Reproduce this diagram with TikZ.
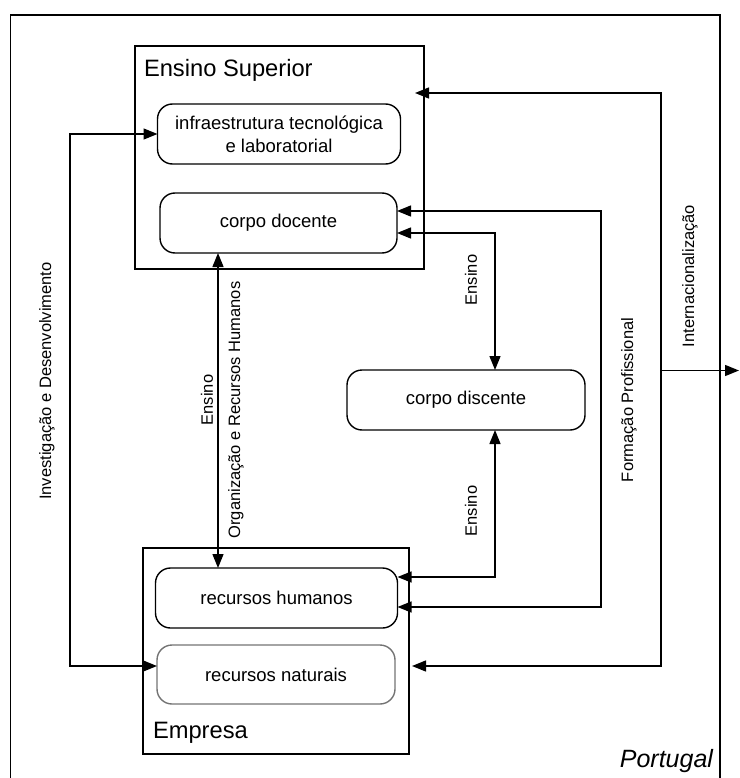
\documentclass[tikz,border=0pt]{standalone}
\usepackage{fontspec}
\setmainfont{Liberation Sans}
\usetikzlibrary{arrows.meta}

\begin{document}
\begin{tikzpicture}[x=1pt, y=-1pt, line width=1.4pt,
    every node/.style={inner sep=0, outer sep=0},
    area/.style={draw, anchor=north west},
    part/.style={draw, rounded corners=15pt, align=center, font=\fontsize{18.5}{23}\selectfont},
    heading/.style={font=\fontsize{23.7}{28}\selectfont, anchor=base west},
    flow/.style={font=\fontsize{16.5}{20}\selectfont, rotate=90},
    link/.style={{Triangle[length=14pt,width=11pt]}-{Triangle[length=14pt,width=11pt]}},
    leave/.style={-{Triangle[length=14pt,width=11pt]}}]
  \useasboundingbox (0,0) rectangle (739,778);

  % Portugal frame
  \draw (10.5,790) -- (10.5,15) -- (720,15) -- (720,790);
  \node[heading, anchor=base east, font=\itshape\fontsize{25}{28}\selectfont] (pt) at (713,767) {Portugal};

  % Ensino Superior
  \node[area, minimum width=289pt, minimum height=223pt] (es) at (135,46) {};
  \node[heading] (estitle) at (144,77) {Ensino Superior};
  \node[part, minimum width=243pt, minimum height=60pt] (infra) at (279,134) {infraestrutura tecnológica\\e laboratorial};
  \node[part, minimum width=237pt, minimum height=60pt] (docente) at (278.5,223) {corpo docente};

  \node[part, minimum width=238pt, minimum height=60pt] (discente) at (466,400) {corpo discente};

  % Empresa
  \node[area, minimum width=266pt, minimum height=206pt] (emp) at (143,548) {};
  \node[part, minimum width=242pt, minimum height=60pt] (humanos) at (276.5,598) {recursos humanos};
  \node[part, draw=black!55, minimum width=238pt, minimum height=59pt] (naturais) at (276,674.5) {recursos naturais};
  \node[heading] (emptitle) at (153,738) {Empresa};

  % vertical runs of the connectors
  \coordinate (inv) at (70,400);
  \coordinate (org) at (218,400);
  \coordinate (ens) at (495,400);
  \coordinate (form) at (601,400);
  \coordinate (intl) at (661,370.5);
  \coordinate (world) at (739,370.5);

  \draw[link] (infra.west) -- (infra.west -| inv) |- ([yshift=8.5pt]naturais.west);
  \draw[link] (docente.south -| org) -- (humanos.north -| org);
  \draw[link] ([yshift=-10pt]docente.east) -| (discente.north -| ens);
  \draw[link] ([yshift=21pt]humanos.east) -| (discente.south -| ens);
  \draw[link] ([yshift=12pt]docente.east) -| (form) |- ([yshift=-9pt]humanos.east);
  \draw[link] ([xshift=-9pt,yshift=-47pt]es.north east) -| (intl) |- ([xshift=3pt,yshift=-118pt]emp.north east);
  \draw[leave] (intl) -- (world);

  % Labels
  \node[flow] (invlabel) at (47,381) {Investigação e Desenvolvimento};
  \node[flow] (orgensino) at (207,400) {Ensino};
  \node[flow] (orglabel) at (236,410) {Organização e Recursos Humanos};
  \node[flow] (ensup) at (471,280) {Ensino};
  \node[flow] (ensdown) at (471,511) {Ensino};
  \node[flow] (formlabel) at (629,400) {Formação Profissional};
  \node[flow] (intllabel) at (690,276) {Internacionalização};
\end{tikzpicture}
\end{document}
